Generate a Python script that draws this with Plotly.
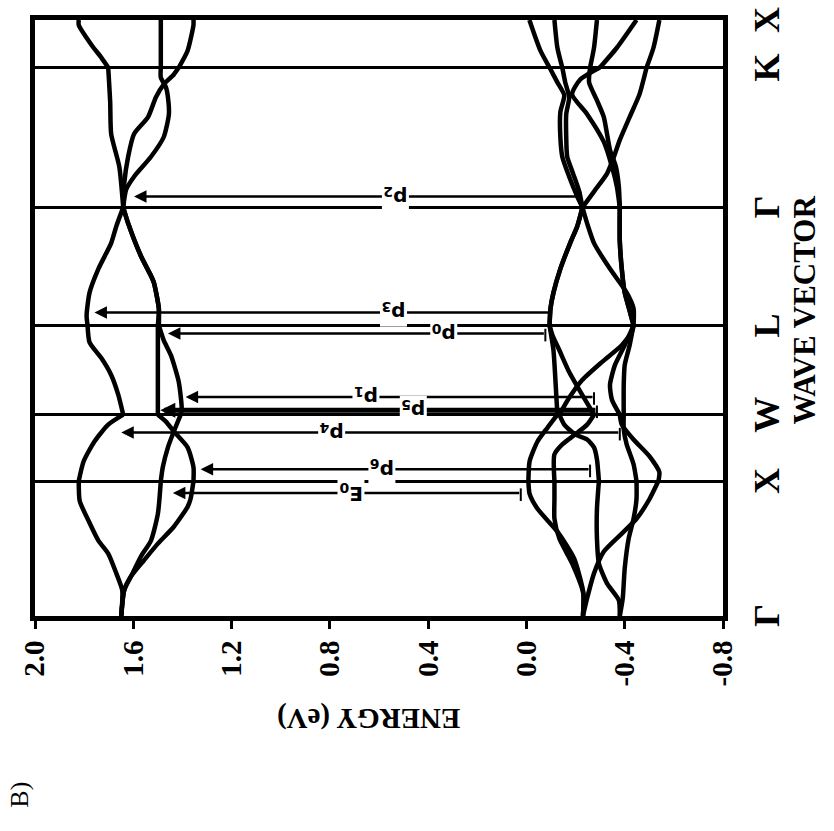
import plotly.graph_objects as go

# ---------------- data ----------------
K_POS = [0.0, 1.016, 1.516, 2.188, 3.077, 4.130, 4.488]
K_LABELS = ["Γ", "X", "W", "L", "Γ", "K", "X"]
E_TICKS = [2.0, 1.6, 1.2, 0.8, 0.4, 0.0, -0.4, -0.8]
E_TICK_TEXT = ["2.0", "1.6", "1.2", "0.8", "0.4", "0.0", "-0.4", "-0.8"]

# conduction bands (energy in eV vs. path coordinate)
cb1_k = [0.0, 0.194, 0.321, 0.470, 0.568, 0.717, 0.866, 1.016, 1.165, 1.314, 1.441, 1.516,
         1.665, 1.815, 1.942, 2.061, 2.188, 2.263, 2.435, 2.614, 2.808, 2.935, 3.077,
         3.384, 3.630, 3.869, 4.130, 4.205, 4.300, 4.451, 4.488]
cb1_e = [1.649, 1.645, 1.669, 1.702, 1.742, 1.782, 1.818, 1.822, 1.802, 1.758, 1.702, 1.641,
         1.661, 1.690, 1.730, 1.778, 1.786, 1.790, 1.778, 1.742, 1.690, 1.669, 1.641,
         1.657, 1.690, 1.694, 1.702, 1.730, 1.770, 1.822, 1.822]

cb2_k = [0.0, 0.194, 0.299, 0.448, 0.568, 0.769, 1.016, 1.120, 1.270, 1.389, 1.516,
         1.568, 1.763, 1.964, 2.076, 2.188, 2.315, 2.509, 2.562, 2.711, 2.957, 3.077,
         3.211, 3.308, 3.458, 3.607, 3.779, 3.906, 3.981, 4.055, 4.130, 4.488]
cb2_e = [1.649, 1.637, 1.609, 1.569, 1.528, 1.500, 1.488, 1.480, 1.459, 1.435, 1.407,
         1.403, 1.415, 1.447, 1.476, 1.496, 1.496, 1.516, 1.528, 1.569, 1.621, 1.641,
         1.629, 1.597, 1.528, 1.476, 1.455, 1.459, 1.467, 1.488, 1.488, 1.488]

cb3_k = [0.0, 0.194, 0.299, 0.418, 0.545, 0.672, 0.822, 0.881, 1.016, 1.120, 1.270, 1.389,
         1.464, 1.516, 1.850, 2.188, 2.315, 2.509, 2.562, 2.711, 2.957, 3.077, 3.256, 3.458,
         3.630, 3.757, 3.906, 4.003, 4.078, 4.130, 4.257, 4.451, 4.488]
cb3_e = [1.649, 1.637, 1.609, 1.557, 1.500, 1.435, 1.379, 1.367, 1.355, 1.355, 1.379, 1.435,
         1.467, 1.500, 1.500, 1.500, 1.496, 1.516, 1.528, 1.569, 1.621, 1.641, 1.637, 1.621,
         1.597, 1.540, 1.508, 1.476, 1.435, 1.415, 1.379, 1.355, 1.355]

# valence bands
vb1_k = [0.0, 0.172, 0.433, 0.635, 0.807, 0.919, 1.016, 1.165, 1.314, 1.419, 1.516, 1.777,
         2.001, 2.188, 2.315, 2.435, 2.614, 2.808, 2.935, 3.077, 3.159, 3.308, 3.458, 3.607,
         3.794, 3.921, 4.018, 4.130, 4.257, 4.488]
vb1_e = [-0.230, -0.232, -0.194, -0.126, -0.045, -0.013, -0.008, -0.013, -0.045, -0.086,
         -0.126, -0.118, -0.110, -0.094, -0.098, -0.110, -0.138, -0.178, -0.207, -0.228,
         -0.207, -0.174, -0.146, -0.138, -0.138, -0.154, -0.126, -0.094, -0.057, -0.012]

vb2_k = [0.0, 0.172, 0.396, 0.583, 0.732, 0.881, 1.016, 1.217, 1.292, 1.367, 1.441, 1.516,
         1.665, 1.837, 2.001, 2.114, 2.188, 2.315, 2.435, 2.614, 2.808, 2.935, 3.077, 3.196,
         3.331, 3.458, 3.607, 3.779, 3.906, 4.018, 4.130, 4.279, 4.488]
vb2_e = [-0.230, -0.231, -0.186, -0.134, -0.114, -0.114, -0.114, -0.114, -0.146, -0.198,
         -0.247, -0.275, -0.227, -0.174, -0.134, -0.106, -0.094, -0.098, -0.110, -0.138,
         -0.178, -0.207, -0.228, -0.215, -0.190, -0.166, -0.162, -0.162, -0.174, -0.158,
         -0.146, -0.126, -0.114]

vb3_k = [0.0, 0.119, 0.246, 0.396, 0.583, 0.807, 1.016, 1.180, 1.270, 1.329, 1.367, 1.441,
         1.516, 1.643, 1.777, 1.912, 2.039, 2.136, 2.188, 2.300, 2.435, 2.614, 2.823, 3.077,
         3.234, 3.384, 3.570, 3.779, 3.928, 4.040, 4.130, 4.279, 4.488]
vb3_e = [-0.380, -0.376, -0.328, -0.295, -0.287, -0.287, -0.295, -0.287, -0.275, -0.247,
         -0.198, -0.154, -0.134, -0.174, -0.227, -0.307, -0.388, -0.428, -0.436, -0.420,
         -0.400, -0.388, -0.380, -0.380, -0.368, -0.348, -0.315, -0.247, -0.186, -0.219,
         -0.299, -0.368, -0.448]

vb4_k = [0.0, 0.134, 0.358, 0.583, 0.732, 0.881, 1.016, 1.143, 1.292, 1.404, 1.516, 1.740,
         1.889, 2.039, 2.188, 2.300, 2.435, 2.614, 2.823, 3.077, 3.234, 3.384, 3.510, 3.630,
         3.757, 3.883, 4.018, 4.130, 4.279, 4.488]
vb4_e = [-0.380, -0.392, -0.400, -0.416, -0.436, -0.448, -0.448, -0.436, -0.408, -0.396,
         -0.396, -0.396, -0.400, -0.420, -0.436, -0.420, -0.400, -0.388, -0.380, -0.380,
         -0.376, -0.364, -0.340, -0.328, -0.315, -0.287, -0.255, -0.259, -0.275, -0.287]

vb5_k = [0.0, 0.134, 0.321, 0.485, 0.620, 0.732, 0.881, 1.016, 1.083, 1.202, 1.329, 1.441,
         1.516, 1.628, 1.740, 1.889, 2.039, 2.188, 2.315, 2.435, 2.614, 2.808, 2.957, 3.077,
         3.196, 3.331, 3.458, 3.585, 3.757, 3.928, 4.130, 4.279, 4.488]
vb5_e = [-0.230, -0.247, -0.275, -0.315, -0.388, -0.448, -0.501, -0.537, -0.541, -0.501,
         -0.436, -0.388, -0.380, -0.348, -0.340, -0.360, -0.400, -0.436, -0.436, -0.408,
         -0.340, -0.275, -0.247, -0.228, -0.275, -0.328, -0.356, -0.380, -0.420, -0.460,
         -0.489, -0.517, -0.541]

# optical transitions
TR_LABELS = ["p<sub>2</sub>", "p<sub>3</sub>", "p<sub>0</sub>", "p<sub>1</sub>",
             "p<sub>5</sub>", "p<sub>4</sub>", "p<sub>6</sub>", "E<sub>0</sub>"]
TR_K = [3.159, 2.285, 2.128, 1.650, 1.550, 1.382, 1.105, 0.926]
TR_E_FROM = [-0.220, -0.094, -0.077, -0.275, -0.287, -0.380, -0.259, 0.023]
TR_E_TO = [1.597, 1.758, 1.459, 1.387, 1.490, 1.649, 1.326, 1.439]
TR_E_LABEL = [0.532, 0.540, 0.338, 0.653, 0.459, 0.794, 0.588, 0.714]

# ---------------- figure ----------------
BANDS = [(cb1_k, cb1_e), (cb2_k, cb2_e), (cb3_k, cb3_e),
         (vb1_k, vb1_e), (vb2_k, vb2_e), (vb3_k, vb3_e), (vb4_k, vb4_e), (vb5_k, vb5_e)]


def split_segments(ks, es):
    inner = K_POS[1:-1]
    segs, ck, ce = [], [], []
    for k, e in zip(ks, es):
        ck.append(k)
        ce.append(e)
        if len(ck) > 1 and any(abs(k - s) < 1e-6 for s in inner):
            segs.append((ck, ce))
            ck, ce = [k], [e]
    if len(ck) > 1:
        segs.append((ck, ce))
    return segs


fig = go.Figure()
for ks, es in BANDS:
    for sk, se in split_segments(ks, es):
        fig.add_trace(go.Scatter(x=se, y=sk, mode="lines",
                                 line=dict(color="black", width=4.5, shape="spline", smoothing=0.6),
                                 hoverinfo="skip", showlegend=False))

arrow_widths = [2.5, 2.5, 2.5, 2.5, 5, 2.5, 2.5, 2.5]
for lab, k, e0, e1, el, aw in zip(TR_LABELS, TR_K, TR_E_FROM, TR_E_TO, TR_E_LABEL, arrow_widths):
    fig.add_annotation(x=e1, y=k, ax=e0, ay=k, xref="x", yref="y", axref="x", ayref="y",
                       text="", showarrow=True, arrowhead=2, arrowsize=1 if aw < 3 else 0.6,
                       arrowwidth=aw, arrowcolor="black", standoff=0, startstandoff=0)
    fig.add_trace(go.Scatter(x=[e0, e0], y=[k + 0.035, k - 0.06], mode="lines",
                             line=dict(color="black", width=2), hoverinfo="skip", showlegend=False))
    fig.add_annotation(x=el, y=k, xref="x", yref="y", text=lab, showarrow=False, textangle=180,
                       xanchor="center", yanchor="middle",
                       bgcolor="white", borderpad=1,
                       font=dict(family="DejaVu Sans", size=20, color="black", weight="bold"))

for kv, kl in zip(K_POS, K_LABELS):
    fig.add_annotation(x=1.064, y=kv, xref="paper", yref="y", text=kl, showarrow=False,
                       textangle=-90, xanchor="center", yanchor="middle",
                       font=dict(family="Liberation Serif", size=36, color="black", weight="bold"))

fig.add_annotation(x=0.485, y=-0.171, xref="paper", yref="paper", text="ENERGY (eV)",
                   showarrow=False, textangle=180, xanchor="center", yanchor="middle",
                   font=dict(family="Liberation Serif", size=29, color="black", weight="bold"))
fig.add_annotation(x=1.118, y=0.513, xref="paper", yref="paper", text="WAVE VECTOR",
                   showarrow=False, textangle=-90, xanchor="center", yanchor="middle",
                   font=dict(family="Liberation Serif", size=31, color="black", weight="bold"))
fig.add_annotation(x=-0.022, y=-0.30, xref="paper", yref="paper", text="B)",
                   showarrow=False, textangle=-90, xanchor="center", yanchor="middle",
                   font=dict(family="Liberation Serif", size=26, color="black"))

fig.update_layout(
    width=834, height=831,
    margin=dict(l=35, r=111, t=20, b=215),
    paper_bgcolor="white", plot_bgcolor="white",
    showlegend=False,
    xaxis=dict(range=[2.0, -0.8], tickvals=E_TICKS, ticktext=E_TICK_TEXT, tickangle=-90,
               ticks="outside", ticklen=8, tickwidth=3, tickcolor="black",
               showline=True, linewidth=5, linecolor="black", mirror=True,
               showgrid=False, zeroline=False,
               tickfont=dict(family="Liberation Serif", size=29, color="black", weight="bold")),
    yaxis=dict(range=[0, K_POS[-1]], tickvals=K_POS[1:-1], showticklabels=False, ticks="",
               showline=True, linewidth=5, linecolor="black", mirror=True,
               showgrid=True, gridcolor="black", gridwidth=3, zeroline=False),
)

fig.write_html("out.html")
